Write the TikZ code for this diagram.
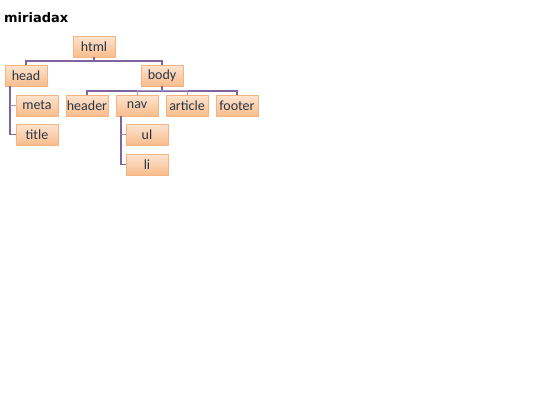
\documentclass[tikz,border=0pt]{standalone}
\usepackage{fontspec}
\setmainfont{Carlito}
\newfontfamily\titlefont{DejaVu Sans}
\usepackage{tikz}
\usetikzlibrary{calc, positioning, shadows}
\definecolor{treeline}{RGB}{128,100,162}
\definecolor{peachtop}{RGB}{253,228,208}
\definecolor{peachbot}{RGB}{249,188,140}
\definecolor{peachedge}{RGB}{246,180,128}
\definecolor{tagtext}{RGB}{38,56,72}
\tikzset{
    tag/.style={rectangle, draw=peachedge, top color=peachtop, bottom color=peachbot, minimum width=42pt, minimum height=21pt, inner sep=0pt, text=tagtext, font=\fontsize{14}{15}\selectfont, drop shadow={opacity=0.2, shadow xshift=0.6pt, shadow yshift=-1pt}},
    conn/.style={draw=treeline, line width=1.9pt},
    tick/.style={draw=treeline!70, line width=0.8pt}
}

\begin{document}
\begin{tikzpicture}[x=1pt, y=-1pt]
    \useasboundingbox (0,0) rectangle (540,405);
    \node[anchor=west, inner sep=0pt, font=\titlefont\bfseries\fontsize{13}{14}\selectfont] (title) at (4,17.5) {miriadax};

    % Root
    \node[tag] (html) at (94,46.5) {html};
    \node[tag] (head) at (26,75.5) {head};
    \node[tag] (body) at (162,75.5) {body};

    % Head children
    \node[tag] (meta) at (37,105.5) {meta};
    \node[tag] (titletag) at (37,134.5) {title};

    % Body children
    \node[tag] (header) at (87,105.5) {header};
    \node[tag] (nav) at (137,105.5) {nav};
    \node[tag] (article) at (187,105.5) {article};
    \node[tag] (footer) at (237,105.5) {footer};

    % Nav children
    \node[tag] (ul) at (147,134.5) {ul};
    \node[tag] (li) at (147,164.5) {li};

    % Connectors
    \draw[conn] (html.south) -- ++(0,4) -| (head.north);
    \draw[conn] (html.south) -- ++(0,4) -| (body.north);
    \draw[conn] (body.south) -- ++(0,4.5) -| (header.north);
    \draw[conn] (body.south) -- ++(0,4.5) -| (footer.north);
    \draw[tick] (body.south) ++(0,4.5) -| (nav.north);
    \draw[tick] (body.south) ++(0,4.5) -| (article.north);
    \draw[conn] ([xshift=5pt]head.south west) |- (titletag.west);
    \draw[tick] ([xshift=5pt]meta.west -| head.south west) -- (meta.west);
    \draw[conn] ([xshift=5pt]nav.south west) |- (li.west);
    \draw[tick] ([xshift=5pt]ul.west -| nav.south west) -- (ul.west);
\end{tikzpicture}
\end{document}
